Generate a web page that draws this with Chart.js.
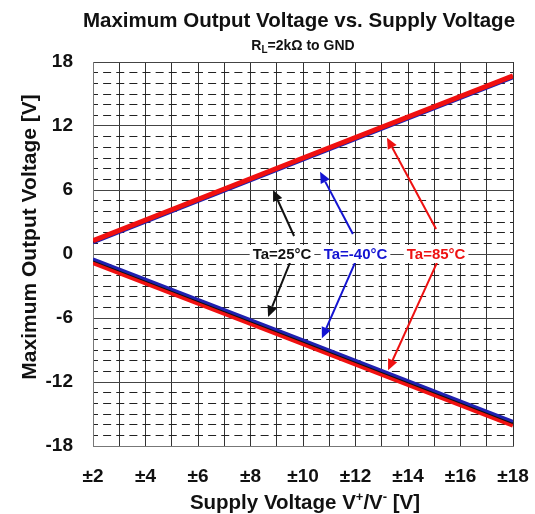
<!DOCTYPE html>
<html>
<head>
<meta charset="utf-8">
<script src="https://cdn.jsdelivr.net/npm/chart.js@4.4.0/dist/chart.umd.min.js"></script>
<style>
  body { margin: 0; background: #fff; }
  #wrap { width: 535px; height: 514px; }
</style>
</head>
<body>
<div id="wrap"><canvas id="chart" width="535" height="514"></canvas></div>
<script>
// Supply voltage (±V) at which the curves were read
var supplyV = [2, 10, 18];

// Maximum output voltage, positive swing [V]
var posM40 = [1.05, 8.8, 16.5];
var pos25 = [1.15, 8.9, 16.6];
var pos85 = [1.25, 9.0, 16.7];

// Maximum output voltage, negative swing [V]
var negM40 = [-0.45, -8.05, -15.7];
var neg25 = [-0.6, -8.2, -15.85];
var neg85 = [-0.8, -8.4, -16.05];

// Labelled ticks
var xLabelTicks = [2, 4, 6, 8, 10, 12, 14, 16, 18];
var yLabelTicks = [-18, -12, -6, 0, 6, 12, 18];

// Temperature callouts (placed on the 0 V line) and their arrows
var tempNames = ['Ta=25°C', 'Ta=-40°C', 'Ta=85°C'];
var tempColors = ['#111111', '#1414d2', '#ee1111'];
var tempLabelX = [9.2, 12.0, 15.07];
// [tail x, tail y, head x, head y] in data units
var arrowsUp = [[9.66, 1.69, 8.86, 6.0], [11.9, 1.87, 10.65, 7.7], [15.07, 2.34, 13.2, 10.9]];
var arrowsDown = [[9.5, -0.84, 8.67, -5.9], [11.98, -0.84, 10.72, -7.9], [15.1, -0.84, 13.24, -10.9]];

var FONT = '"Liberation Sans", Arial, sans-serif';

function pts(ys) {
    return supplyV.map(function(v, i) { return {x: v, y: ys[i]}; });
}

function line(label, ys, color, width, order) {
    return {
        label: label,
        data: pts(ys),
        borderColor: color,
        backgroundColor: color,
        borderWidth: width,
        pointRadius: 0,
        tension: 0,
        order: order
    };
}

// Draws a run of text pieces (for sub/superscripts) centred on cx
function drawPieces(ctx, pieces, cx, y) {
    var total = 0;
    pieces.forEach(function(p) {
        ctx.font = 'bold ' + p.size + 'px ' + FONT;
        p.w = ctx.measureText(p.t).width;
        total += p.w;
    });
    var x = cx - total / 2;
    pieces.forEach(function(p) {
        ctx.font = 'bold ' + p.size + 'px ' + FONT;
        ctx.fillText(p.t, x, y + (p.dy || 0));
        x += p.w;
    });
}

function drawArrow(ctx, x1, y1, x2, y2, color) {
    var ang = Math.atan2(y2 - y1, x2 - x1);
    var len = 11, half = 5;
    var bx = x2 - len * Math.cos(ang), by = y2 - len * Math.sin(ang);
    ctx.strokeStyle = color;
    ctx.fillStyle = color;
    ctx.lineWidth = 2;
    ctx.beginPath();
    ctx.moveTo(x1, y1);
    ctx.lineTo(bx, by);
    ctx.stroke();
    ctx.beginPath();
    ctx.moveTo(x2, y2);
    ctx.lineTo(bx + half * Math.sin(ang), by - half * Math.cos(ang));
    ctx.lineTo(bx - half * Math.sin(ang), by + half * Math.cos(ang));
    ctx.closePath();
    ctx.fill();
}

var calloutPlugin = {
    id: 'callouts',
    afterDatasetsDraw: function(chart) {
        var ctx = chart.ctx, xs = chart.scales.x, ys = chart.scales.y;
        ctx.save();
        arrowsUp.concat(arrowsDown).forEach(function(a, i) {
            drawArrow(ctx, xs.getPixelForValue(a[0]), ys.getPixelForValue(a[1]),
                xs.getPixelForValue(a[2]), ys.getPixelForValue(a[3]), tempColors[i % 3]);
        });
        ctx.font = 'bold 15px ' + FONT;
        ctx.textAlign = 'center';
        ctx.textBaseline = 'middle';
        var y0 = ys.getPixelForValue(0);
        tempNames.forEach(function(name, i) {
            var cx = xs.getPixelForValue(tempLabelX[i]);
            var w = ctx.measureText(name).width;
            ctx.fillStyle = '#fff';
            ctx.fillRect(cx - w / 2 - 3, y0 - 9, w + 6, 18);
            ctx.fillStyle = tempColors[i];
            ctx.fillText(name, cx, y0 + 1);
        });
        ctx.restore();
    },
    afterDraw: function(chart) {
        var ctx = chart.ctx;
        ctx.save();
        ctx.fillStyle = '#111';
        ctx.textAlign = 'left';
        ctx.textBaseline = 'alphabetic';
        drawPieces(ctx, [{t: 'Maximum Output Voltage vs. Supply Voltage', size: 20.5}], 299, 27);
        drawPieces(ctx, [
            {t: 'R', size: 14},
            {t: 'L', size: 10, dy: 3},
            {t: '=2kΩ to GND', size: 14}
        ], 303, 50);
        drawPieces(ctx, [
            {t: 'Supply Voltage V', size: 20.5},
            {t: '+', size: 13, dy: -8},
            {t: '/V', size: 20.5},
            {t: '-', size: 13, dy: -8},
            {t: ' [V]', size: 20.5}
        ], 305, 509);
        ctx.translate(36, 237);
        ctx.rotate(-Math.PI / 2);
        drawPieces(ctx, [{t: 'Maximum Output Voltage [V]', size: 21}], 0, 0);
        ctx.restore();
    }
};

var chart = new Chart(document.getElementById('chart'), {
    type: 'line',
    data: {
        datasets: [
            line('Ta=-40°C', posM40, '#2020b0', 3, 3),
            line('Ta=25°C', pos25, '#111111', 2, 2),
            line('Ta=85°C', pos85, '#f01010', 5, 1),
            line('Ta=85°C', neg85, '#f01010', 5, 6),
            line('Ta=25°C', neg25, '#111111', 2, 5),
            line('Ta=-40°C', negM40, '#2020b0', 3, 4)
        ]
    },
    options: {
        responsive: false,
        animation: false,
        events: [],
        layout: { padding: { top: 62, right: 22, left: 0, bottom: 0 } },
        plugins: {
            legend: { display: false },
            title: { display: false },
            tooltip: { enabled: false }
        },
        scales: {
            x: {
                type: 'linear',
                min: 2,
                max: 18,
                afterFit: function(scale) { scale.height = 68; },
                ticks: {
                    stepSize: 1,
                    autoSkip: false,
                    maxRotation: 0,
                    padding: 0,
                    color: '#111',
                    font: { family: FONT, size: 19, weight: 'bold' },
                    callback: function(v) {
                        return xLabelTicks.indexOf(v) >= 0 ? '±' + v : '';
                    }
                },
                grid: {
                    color: '#333',
                    lineWidth: 1,
                    drawTicks: true,
                    tickLength: 19,
                    tickColor: 'rgba(0,0,0,0)'
                },
                border: { color: '#777', width: 1 }
            },
            y: {
                min: -18,
                max: 18,
                afterFit: function(scale) { scale.width = 93; },
                ticks: {
                    stepSize: 1,
                    autoSkip: false,
                    padding: 20,
                    color: '#111',
                    font: { family: FONT, size: 19, weight: 'bold' },
                    callback: function(v) {
                        return yLabelTicks.indexOf(v) >= 0 ? String(v) : '';
                    }
                },
                grid: {
                    drawTicks: false,
                    lineWidth: 1,
                    color: function(c) {
                        return c.tick && c.tick.value % 6 !== 0 ? '#222' : '#444';
                    }
                },
                border: {
                    color: '#777',
                    width: 1,
                    dash: function(c) {
                        return c.tick && c.tick.value % 6 !== 0 ? [8, 5.125] : [];
                    },
                    dashOffset: 4
                }
            }
        }
    },
    plugins: [calloutPlugin]
});
</script>
</body>
</html>
